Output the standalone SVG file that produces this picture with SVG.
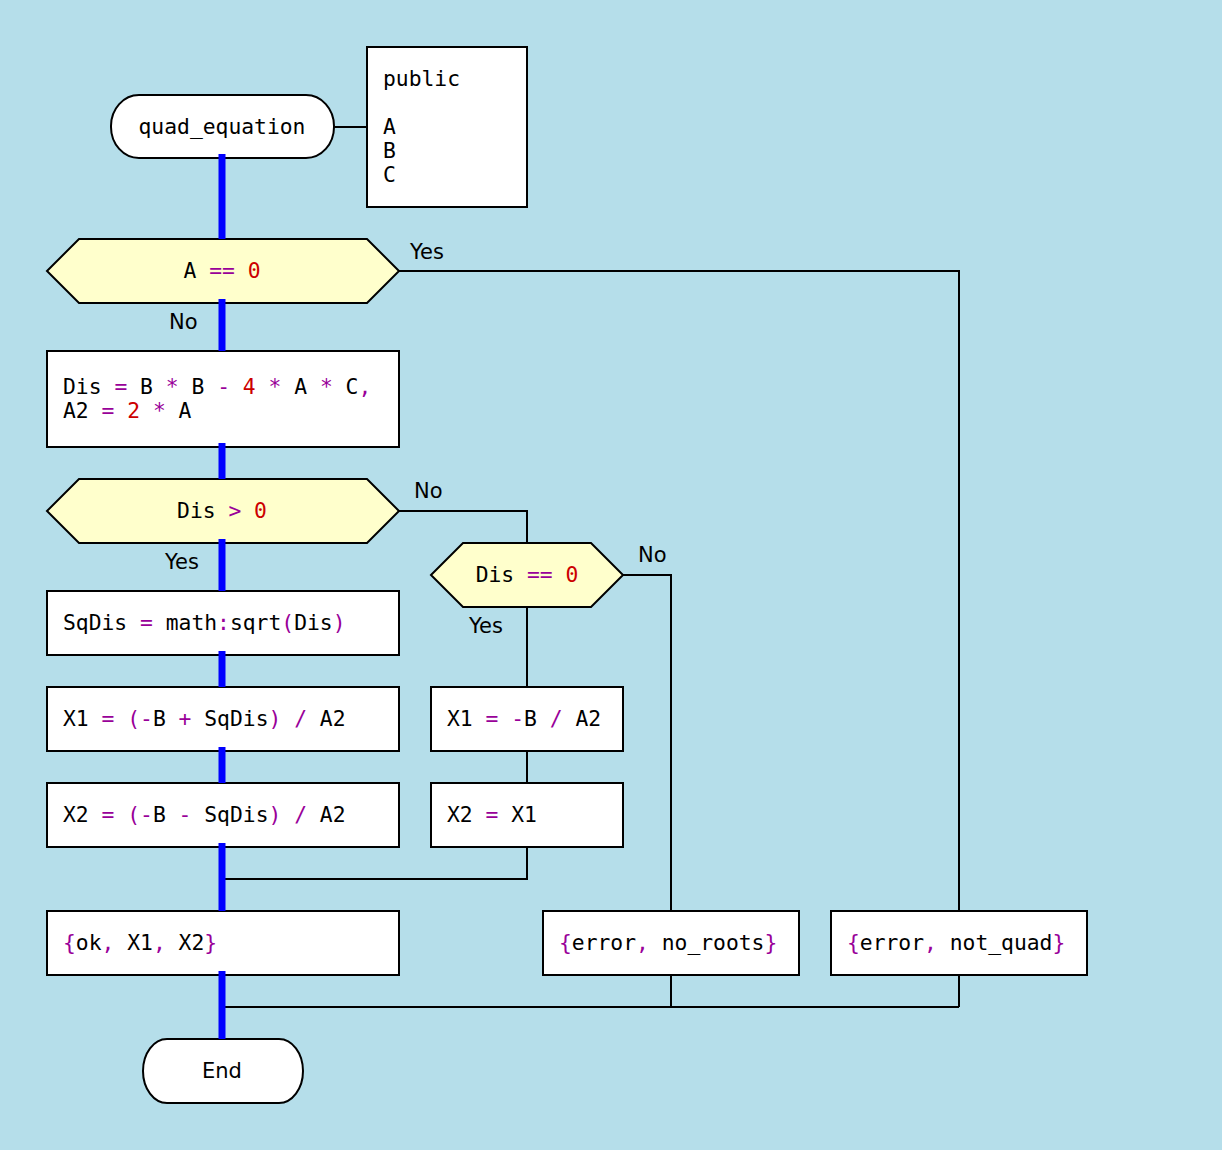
<svg xmlns="http://www.w3.org/2000/svg" width="1222" height="1150" viewBox="0 0 1222 1150">
<style>
.bg{fill:#b5deea}
.box{fill:#ffffff;stroke:#000;stroke-width:2}
.dec{fill:#ffffcc;stroke:#000;stroke-width:2}
.code{font-family:"DejaVu Sans Mono","Liberation Mono",monospace;font-size:21.33px;fill:#000;white-space:pre}
.lbl{font-family:"DejaVu Sans","Liberation Sans",sans-serif;font-size:21px;fill:#000}
.o{fill:#990099}
.n{fill:#cc0000}
.thin{fill:none;stroke:#000;stroke-width:2}
.thick{fill:none;stroke:#0000ff;stroke-width:7}
</style>
<rect class="bg" x="0" y="0" width="1222" height="1150"/>
<g id="connectors">
<polyline class="thin" points="334,127 367,127"/>
<polyline class="thin" points="399,271 959,271 959,911"/>
<polyline class="thin" points="399,511 527,511 527,543"/>
<polyline class="thin" points="623,575 671,575 671,911"/>
<polyline class="thin" points="527,607 527,687"/>
<polyline class="thin" points="527,751 527,783"/>
<polyline class="thin" points="527,847 527,879 222,879"/>
<polyline class="thin" points="671,975 671,1007"/>
<polyline class="thin" points="959,975 959,1007"/>
<polyline class="thin" points="222,1007 959,1007"/>
</g>
<g id="start"><rect class="box" x="111" y="95" width="223" height="63" rx="28" ry="31"/><text class="code" x="222" y="134" text-anchor="middle">quad_equation</text></g>
<g id="params"><rect class="box" x="367" y="47" width="160" height="160"/>
<text class="code" x="383" y="86">public</text>
<text class="code" x="383" y="134">A</text>
<text class="code" x="383" y="158">B</text>
<text class="code" x="383" y="182">C</text></g>
<g id="dec1"><polygon class="dec" points="47,271 79,239 367,239 399,271 367,303 79,303"/>
<text class="code" x="222" y="278" text-anchor="middle" xml:space="preserve">A <tspan class="o">==</tspan> <tspan class="n">0</tspan></text></g>
<g id="calc"><rect class="box" x="47" y="351" width="352" height="96"/>
<text class="code" x="63" y="394" xml:space="preserve">Dis <tspan class="o">=</tspan> B <tspan class="o">*</tspan> B <tspan class="o">-</tspan> <tspan class="n">4</tspan> <tspan class="o">*</tspan> A <tspan class="o">*</tspan> C<tspan class="o">,</tspan></text>
<text class="code" x="63" y="418" xml:space="preserve">A2 <tspan class="o">=</tspan> <tspan class="n">2</tspan> <tspan class="o">*</tspan> A</text></g>
<g id="dec2"><polygon class="dec" points="47,511 79,479 367,479 399,511 367,543 79,543"/>
<text class="code" x="222" y="518" text-anchor="middle" xml:space="preserve">Dis <tspan class="o">&gt;</tspan> <tspan class="n">0</tspan></text></g>
<g id="dec3"><polygon class="dec" points="431,575 463,543 591,543 623,575 591,607 463,607"/>
<text class="code" x="527" y="582" text-anchor="middle" xml:space="preserve">Dis <tspan class="o">==</tspan> <tspan class="n">0</tspan></text></g>
<g id="sqdis"><rect class="box" x="47" y="591" width="352" height="64"/>
<text class="code" x="63" y="630" xml:space="preserve">SqDis <tspan class="o">=</tspan> math<tspan class="o">:</tspan>sqrt<tspan class="o">(</tspan>Dis<tspan class="o">)</tspan></text></g>
<g id="x1a"><rect class="box" x="47" y="687" width="352" height="64"/>
<text class="code" x="63" y="726" xml:space="preserve">X1 <tspan class="o">=</tspan> <tspan class="o">(-</tspan>B <tspan class="o">+</tspan> SqDis<tspan class="o">)</tspan> <tspan class="o">/</tspan> A2</text></g>
<g id="x2a"><rect class="box" x="47" y="783" width="352" height="64"/>
<text class="code" x="63" y="822" xml:space="preserve">X2 <tspan class="o">=</tspan> <tspan class="o">(-</tspan>B <tspan class="o">-</tspan> SqDis<tspan class="o">)</tspan> <tspan class="o">/</tspan> A2</text></g>
<g id="x1b"><rect class="box" x="431" y="687" width="192" height="64"/>
<text class="code" x="447" y="726" xml:space="preserve">X1 <tspan class="o">=</tspan> <tspan class="o">-</tspan>B <tspan class="o">/</tspan> A2</text></g>
<g id="x2b"><rect class="box" x="431" y="783" width="192" height="64"/>
<text class="code" x="447" y="822" xml:space="preserve">X2 <tspan class="o">=</tspan> X1</text></g>
<g id="ok"><rect class="box" x="47" y="911" width="352" height="64"/>
<text class="code" x="63" y="950" xml:space="preserve"><tspan class="o">{</tspan>ok<tspan class="o">,</tspan> X1<tspan class="o">,</tspan> X2<tspan class="o">}</tspan></text></g>
<g id="noroots"><rect class="box" x="543" y="911" width="256" height="64"/>
<text class="code" x="559" y="950" xml:space="preserve"><tspan class="o">{</tspan>error<tspan class="o">,</tspan> no_roots<tspan class="o">}</tspan></text></g>
<g id="notquad"><rect class="box" x="831" y="911" width="256" height="64"/>
<text class="code" x="847" y="950" xml:space="preserve"><tspan class="o">{</tspan>error<tspan class="o">,</tspan> not_quad<tspan class="o">}</tspan></text></g>
<g id="end"><rect class="box" x="143" y="1039" width="160" height="64" rx="24" ry="32"/>
<text class="lbl" x="222" y="1078" text-anchor="middle">End</text></g>
<g id="main-flow">
<line class="thick" x1="222" y1="154" x2="222" y2="239"/>
<line class="thick" x1="222" y1="299" x2="222" y2="351"/>
<line class="thick" x1="222" y1="443" x2="222" y2="479"/>
<line class="thick" x1="222" y1="539" x2="222" y2="591"/>
<line class="thick" x1="222" y1="651" x2="222" y2="687"/>
<line class="thick" x1="222" y1="747" x2="222" y2="783"/>
<line class="thick" x1="222" y1="843" x2="222" y2="911"/>
<line class="thick" x1="222" y1="971" x2="222" y2="1039"/>
</g>
<g id="labels">
<text class="lbl" x="410" y="259">Yes</text>
<text class="lbl" x="169" y="329">No</text>
<text class="lbl" x="414" y="498">No</text>
<text class="lbl" x="165" y="569">Yes</text>
<text class="lbl" x="638" y="562">No</text>
<text class="lbl" x="469" y="633">Yes</text>
</g>
</svg>
